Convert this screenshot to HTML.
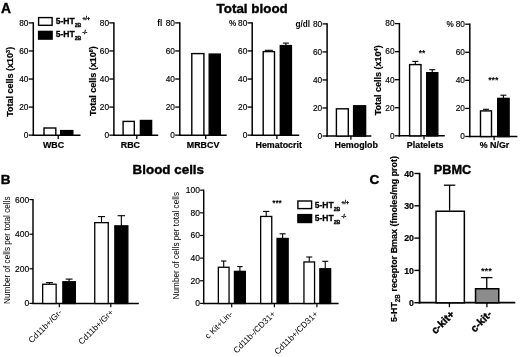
<!DOCTYPE html>
<html><head><meta charset="utf-8"><title>Figure</title>
<style>
html,body{margin:0;padding:0;background:#fff;}
svg{display:block;font-family:"Liberation Sans", Arial, Helvetica, sans-serif;fill:#000;}
</style></head><body>
<svg width="520" height="357" viewBox="0 0 520 357">
<rect x="0" y="0" width="520" height="357" fill="#fff"/>
<!-- Panel A -->
<text x="0.90" y="12.50" font-size="13.8" font-weight="bold" text-anchor="start" stroke="#000" stroke-width="0.4">A</text>
<text x="216.60" y="12.80" font-size="13.4" font-weight="bold" text-anchor="start" stroke="#000" stroke-width="0.4">Total blood</text>
<line x1="33.30" y1="22.25" x2="33.30" y2="135.90" stroke="#000" stroke-width="1.5"/>
<line x1="32.55" y1="135.15" x2="80.50" y2="135.15" stroke="#000" stroke-width="1.5"/>
<line x1="28.70" y1="135.15" x2="33.30" y2="135.15" stroke="#000" stroke-width="1.3"/>
<text x="28.40" y="137.95" font-size="8.3" text-anchor="end" stroke="#000" stroke-width="0.15">0</text>
<line x1="28.70" y1="107.09" x2="33.30" y2="107.09" stroke="#000" stroke-width="1.3"/>
<text x="28.40" y="109.89" font-size="8.3" text-anchor="end" stroke="#000" stroke-width="0.15">20</text>
<line x1="28.70" y1="79.03" x2="33.30" y2="79.03" stroke="#000" stroke-width="1.3"/>
<text x="28.40" y="81.83" font-size="8.3" text-anchor="end" stroke="#000" stroke-width="0.15">40</text>
<line x1="28.70" y1="50.96" x2="33.30" y2="50.96" stroke="#000" stroke-width="1.3"/>
<text x="28.40" y="53.76" font-size="8.3" text-anchor="end" stroke="#000" stroke-width="0.15">60</text>
<line x1="28.70" y1="22.90" x2="33.30" y2="22.90" stroke="#000" stroke-width="1.3"/>
<text x="28.40" y="25.70" font-size="8.3" text-anchor="end" stroke="#000" stroke-width="0.15">80</text>
<line x1="58.20" y1="135.15" x2="58.20" y2="138.95" stroke="#000" stroke-width="1.3"/>
<text x="12.60" y="81.83" font-size="9.0" font-weight="bold" text-anchor="middle" transform="rotate(-90 12.60 81.83)" stroke="#000" stroke-width="0.2">Total cells (x10<tspan font-size="5.5" dy="-3">3</tspan><tspan dy="3">)</tspan></text>
<rect x="44.00" y="128.00" width="11.80" height="7.20" fill="#fff" stroke="#000" stroke-width="1.4"/>
<rect x="60.70" y="130.60" width="12.10" height="4.60" fill="#000" stroke="#000" stroke-width="1.4"/>
<text x="53.60" y="148.10" font-size="8.9" font-weight="bold" text-anchor="middle" stroke="#000" stroke-width="0.2">WBC</text>
<rect x="38.60" y="17.60" width="13.50" height="7.70" fill="#fff" stroke="#000" stroke-width="1.4"/>
<rect x="38.60" y="31.40" width="13.50" height="7.70" fill="#000" stroke="#000" stroke-width="1.4"/>
<text x="55.80" y="23.70" font-size="8.5" font-weight="bold" text-anchor="start" stroke="#000" stroke-width="0.3">5-HT<tspan font-size="5.2" dy="3">2B</tspan><tspan font-size="5.2" dy="-6.5" dx="1.1">+/+</tspan></text>
<text x="55.80" y="37.20" font-size="8.5" font-weight="bold" text-anchor="start" stroke="#000" stroke-width="0.3">5-HT<tspan font-size="5.2" dy="3">2B</tspan><tspan font-size="5.2" dy="-6.5" dx="1.1">-/-</tspan></text>
<line x1="113.90" y1="22.25" x2="113.90" y2="135.90" stroke="#000" stroke-width="1.5"/>
<line x1="113.15" y1="135.15" x2="158.20" y2="135.15" stroke="#000" stroke-width="1.5"/>
<line x1="109.30" y1="135.15" x2="113.90" y2="135.15" stroke="#000" stroke-width="1.3"/>
<text x="109.00" y="137.95" font-size="8.3" text-anchor="end" stroke="#000" stroke-width="0.15">0</text>
<line x1="109.30" y1="107.09" x2="113.90" y2="107.09" stroke="#000" stroke-width="1.3"/>
<text x="109.00" y="109.89" font-size="8.3" text-anchor="end" stroke="#000" stroke-width="0.15">20</text>
<line x1="109.30" y1="79.03" x2="113.90" y2="79.03" stroke="#000" stroke-width="1.3"/>
<text x="109.00" y="81.83" font-size="8.3" text-anchor="end" stroke="#000" stroke-width="0.15">40</text>
<line x1="109.30" y1="50.96" x2="113.90" y2="50.96" stroke="#000" stroke-width="1.3"/>
<text x="109.00" y="53.76" font-size="8.3" text-anchor="end" stroke="#000" stroke-width="0.15">60</text>
<line x1="109.30" y1="22.90" x2="113.90" y2="22.90" stroke="#000" stroke-width="1.3"/>
<text x="109.00" y="25.70" font-size="8.3" text-anchor="end" stroke="#000" stroke-width="0.15">80</text>
<line x1="136.80" y1="135.15" x2="136.80" y2="138.95" stroke="#000" stroke-width="1.3"/>
<text x="95.70" y="81.13" font-size="9.0" font-weight="bold" text-anchor="middle" transform="rotate(-90 95.70 81.13)" stroke="#000" stroke-width="0.2">Total cells (x10<tspan font-size="5.5" dy="-3">6</tspan><tspan dy="3">)</tspan></text>
<rect x="123.10" y="121.40" width="11.20" height="13.80" fill="#fff" stroke="#000" stroke-width="1.4"/>
<rect x="140.40" y="120.50" width="11.20" height="14.70" fill="#000" stroke="#000" stroke-width="1.4"/>
<text x="130.40" y="148.10" font-size="8.9" font-weight="bold" text-anchor="middle" stroke="#000" stroke-width="0.2">RBC</text>
<line x1="179.80" y1="22.25" x2="179.80" y2="135.90" stroke="#000" stroke-width="1.5"/>
<line x1="179.05" y1="135.15" x2="226.70" y2="135.15" stroke="#000" stroke-width="1.5"/>
<line x1="175.20" y1="135.15" x2="179.80" y2="135.15" stroke="#000" stroke-width="1.3"/>
<text x="174.90" y="137.95" font-size="8.3" text-anchor="end" stroke="#000" stroke-width="0.15">0</text>
<line x1="175.20" y1="107.09" x2="179.80" y2="107.09" stroke="#000" stroke-width="1.3"/>
<text x="174.90" y="109.89" font-size="8.3" text-anchor="end" stroke="#000" stroke-width="0.15">20</text>
<line x1="175.20" y1="79.03" x2="179.80" y2="79.03" stroke="#000" stroke-width="1.3"/>
<text x="174.90" y="81.83" font-size="8.3" text-anchor="end" stroke="#000" stroke-width="0.15">40</text>
<line x1="175.20" y1="50.96" x2="179.80" y2="50.96" stroke="#000" stroke-width="1.3"/>
<text x="174.90" y="53.76" font-size="8.3" text-anchor="end" stroke="#000" stroke-width="0.15">60</text>
<line x1="175.20" y1="22.90" x2="179.80" y2="22.90" stroke="#000" stroke-width="1.3"/>
<text x="174.90" y="25.70" font-size="8.3" text-anchor="end" stroke="#000" stroke-width="0.15">80</text>
<line x1="205.70" y1="135.15" x2="205.70" y2="138.95" stroke="#000" stroke-width="1.3"/>
<text x="157.20" y="25.70" font-size="8.2" font-weight="bold" text-anchor="start">fl</text>
<rect x="191.80" y="53.60" width="12.10" height="81.60" fill="#fff" stroke="#000" stroke-width="1.4"/>
<rect x="209.20" y="54.10" width="11.10" height="81.10" fill="#000" stroke="#000" stroke-width="1.4"/>
<text x="203.10" y="148.10" font-size="8.9" font-weight="bold" text-anchor="middle" stroke="#000" stroke-width="0.2">MRBCV</text>
<line x1="252.20" y1="22.25" x2="252.20" y2="135.90" stroke="#000" stroke-width="1.5"/>
<line x1="251.45" y1="135.15" x2="299.20" y2="135.15" stroke="#000" stroke-width="1.5"/>
<line x1="247.60" y1="135.15" x2="252.20" y2="135.15" stroke="#000" stroke-width="1.3"/>
<text x="247.30" y="137.95" font-size="8.3" text-anchor="end" stroke="#000" stroke-width="0.15">0</text>
<line x1="247.60" y1="107.09" x2="252.20" y2="107.09" stroke="#000" stroke-width="1.3"/>
<text x="247.30" y="109.89" font-size="8.3" text-anchor="end" stroke="#000" stroke-width="0.15">20</text>
<line x1="247.60" y1="79.03" x2="252.20" y2="79.03" stroke="#000" stroke-width="1.3"/>
<text x="247.30" y="81.83" font-size="8.3" text-anchor="end" stroke="#000" stroke-width="0.15">40</text>
<line x1="247.60" y1="50.96" x2="252.20" y2="50.96" stroke="#000" stroke-width="1.3"/>
<text x="247.30" y="53.76" font-size="8.3" text-anchor="end" stroke="#000" stroke-width="0.15">60</text>
<line x1="247.60" y1="22.90" x2="252.20" y2="22.90" stroke="#000" stroke-width="1.3"/>
<text x="247.30" y="25.70" font-size="8.3" text-anchor="end" stroke="#000" stroke-width="0.15">80</text>
<line x1="276.90" y1="135.15" x2="276.90" y2="138.95" stroke="#000" stroke-width="1.3"/>
<text x="228.90" y="25.70" font-size="8.2" font-weight="bold" text-anchor="start">%</text>
<line x1="268.85" y1="50.30" x2="268.85" y2="51.40" stroke="#000" stroke-width="1.1"/>
<line x1="264.85" y1="50.30" x2="272.85" y2="50.30" stroke="#000" stroke-width="1.1"/>
<rect x="263.20" y="51.60" width="11.30" height="83.60" fill="#fff" stroke="#000" stroke-width="1.4"/>
<line x1="285.85" y1="43.10" x2="285.85" y2="45.40" stroke="#000" stroke-width="1.1"/>
<line x1="282.85" y1="43.10" x2="288.85" y2="43.10" stroke="#000" stroke-width="1.1"/>
<rect x="280.30" y="45.60" width="11.10" height="89.60" fill="#000" stroke="#000" stroke-width="1.4"/>
<text x="278.70" y="148.10" font-size="8.9" font-weight="bold" text-anchor="middle" stroke="#000" stroke-width="0.2">Hematocrit</text>
<line x1="327.10" y1="23.25" x2="327.10" y2="136.75" stroke="#000" stroke-width="1.5"/>
<line x1="326.35" y1="136.00" x2="371.30" y2="136.00" stroke="#000" stroke-width="1.5"/>
<line x1="322.50" y1="136.00" x2="327.10" y2="136.00" stroke="#000" stroke-width="1.3"/>
<text x="322.20" y="138.80" font-size="8.3" text-anchor="end" stroke="#000" stroke-width="0.15">0</text>
<line x1="322.50" y1="107.97" x2="327.10" y2="107.97" stroke="#000" stroke-width="1.3"/>
<text x="322.20" y="110.77" font-size="8.3" text-anchor="end" stroke="#000" stroke-width="0.15">20</text>
<line x1="322.50" y1="79.95" x2="327.10" y2="79.95" stroke="#000" stroke-width="1.3"/>
<text x="322.20" y="82.75" font-size="8.3" text-anchor="end" stroke="#000" stroke-width="0.15">40</text>
<line x1="322.50" y1="51.92" x2="327.10" y2="51.92" stroke="#000" stroke-width="1.3"/>
<text x="322.20" y="54.72" font-size="8.3" text-anchor="end" stroke="#000" stroke-width="0.15">60</text>
<line x1="322.50" y1="23.90" x2="327.10" y2="23.90" stroke="#000" stroke-width="1.3"/>
<text x="322.20" y="26.70" font-size="8.3" text-anchor="end" stroke="#000" stroke-width="0.15">80</text>
<line x1="350.90" y1="136.00" x2="350.90" y2="139.80" stroke="#000" stroke-width="1.3"/>
<text x="295.40" y="26.70" font-size="8.2" font-weight="bold" text-anchor="start">g/dl</text>
<rect x="336.40" y="108.80" width="11.90" height="27.25" fill="#fff" stroke="#000" stroke-width="1.4"/>
<rect x="353.60" y="105.80" width="12.00" height="30.25" fill="#000" stroke="#000" stroke-width="1.4"/>
<text x="356.20" y="148.30" font-size="8.9" font-weight="bold" text-anchor="middle" stroke="#000" stroke-width="0.2">Hemoglob</text>
<line x1="399.40" y1="22.95" x2="399.40" y2="136.55" stroke="#000" stroke-width="1.5"/>
<line x1="398.65" y1="135.80" x2="444.80" y2="135.80" stroke="#000" stroke-width="1.5"/>
<line x1="394.80" y1="135.80" x2="399.40" y2="135.80" stroke="#000" stroke-width="1.3"/>
<text x="394.50" y="138.60" font-size="8.3" text-anchor="end" stroke="#000" stroke-width="0.15">0</text>
<line x1="394.80" y1="107.75" x2="399.40" y2="107.75" stroke="#000" stroke-width="1.3"/>
<text x="394.50" y="110.55" font-size="8.3" text-anchor="end" stroke="#000" stroke-width="0.15">20</text>
<line x1="394.80" y1="79.70" x2="399.40" y2="79.70" stroke="#000" stroke-width="1.3"/>
<text x="394.50" y="82.50" font-size="8.3" text-anchor="end" stroke="#000" stroke-width="0.15">40</text>
<line x1="394.80" y1="51.65" x2="399.40" y2="51.65" stroke="#000" stroke-width="1.3"/>
<text x="394.50" y="54.45" font-size="8.3" text-anchor="end" stroke="#000" stroke-width="0.15">60</text>
<line x1="394.80" y1="23.60" x2="399.40" y2="23.60" stroke="#000" stroke-width="1.3"/>
<text x="394.50" y="26.40" font-size="8.3" text-anchor="end" stroke="#000" stroke-width="0.15">80</text>
<line x1="424.00" y1="135.80" x2="424.00" y2="139.60" stroke="#000" stroke-width="1.3"/>
<text x="381.40" y="80.30" font-size="9.0" font-weight="bold" text-anchor="middle" transform="rotate(-90 381.40 80.30)" stroke="#000" stroke-width="0.2">Total cells (x10<tspan font-size="5.5" dy="-3">4</tspan><tspan dy="3">)</tspan></text>
<line x1="415.30" y1="61.40" x2="415.30" y2="64.40" stroke="#000" stroke-width="1.1"/>
<line x1="412.30" y1="61.40" x2="418.30" y2="61.40" stroke="#000" stroke-width="1.1"/>
<rect x="409.60" y="64.60" width="11.40" height="71.25" fill="#fff" stroke="#000" stroke-width="1.4"/>
<line x1="432.25" y1="69.70" x2="432.25" y2="72.50" stroke="#000" stroke-width="1.1"/>
<line x1="429.25" y1="69.70" x2="435.25" y2="69.70" stroke="#000" stroke-width="1.1"/>
<rect x="426.70" y="72.70" width="11.10" height="63.15" fill="#000" stroke="#000" stroke-width="1.4"/>
<text x="422.10" y="55.60" font-size="8.3" font-weight="bold" text-anchor="middle">**</text>
<text x="425.10" y="148.10" font-size="8.9" font-weight="bold" text-anchor="middle" stroke="#000" stroke-width="0.2">Platelets</text>
<line x1="469.80" y1="23.55" x2="469.80" y2="137.25" stroke="#000" stroke-width="1.5"/>
<line x1="469.05" y1="136.50" x2="517.40" y2="136.50" stroke="#000" stroke-width="1.5"/>
<line x1="465.20" y1="136.50" x2="469.80" y2="136.50" stroke="#000" stroke-width="1.3"/>
<text x="464.90" y="139.30" font-size="8.3" text-anchor="end" stroke="#000" stroke-width="0.15">0</text>
<line x1="465.20" y1="108.42" x2="469.80" y2="108.42" stroke="#000" stroke-width="1.3"/>
<text x="464.90" y="111.22" font-size="8.3" text-anchor="end" stroke="#000" stroke-width="0.15">20</text>
<line x1="465.20" y1="80.35" x2="469.80" y2="80.35" stroke="#000" stroke-width="1.3"/>
<text x="464.90" y="83.15" font-size="8.3" text-anchor="end" stroke="#000" stroke-width="0.15">40</text>
<line x1="465.20" y1="52.28" x2="469.80" y2="52.28" stroke="#000" stroke-width="1.3"/>
<text x="464.90" y="55.08" font-size="8.3" text-anchor="end" stroke="#000" stroke-width="0.15">60</text>
<line x1="465.20" y1="24.20" x2="469.80" y2="24.20" stroke="#000" stroke-width="1.3"/>
<text x="464.90" y="27.00" font-size="8.3" text-anchor="end" stroke="#000" stroke-width="0.15">80</text>
<line x1="494.10" y1="136.50" x2="494.10" y2="140.30" stroke="#000" stroke-width="1.3"/>
<text x="446.40" y="27.00" font-size="8.2" font-weight="bold" text-anchor="start">%</text>
<line x1="486.00" y1="109.30" x2="486.00" y2="110.70" stroke="#000" stroke-width="1.1"/>
<line x1="483.00" y1="109.30" x2="489.00" y2="109.30" stroke="#000" stroke-width="1.1"/>
<rect x="480.50" y="110.90" width="11.00" height="25.65" fill="#fff" stroke="#000" stroke-width="1.4"/>
<line x1="503.40" y1="95.20" x2="503.40" y2="98.20" stroke="#000" stroke-width="1.1"/>
<line x1="500.40" y1="95.20" x2="506.40" y2="95.20" stroke="#000" stroke-width="1.1"/>
<rect x="497.70" y="98.40" width="11.40" height="38.15" fill="#000" stroke="#000" stroke-width="1.4"/>
<text x="493.30" y="83.10" font-size="8.8" font-weight="bold" text-anchor="middle">***</text>
<text x="494.50" y="148.10" font-size="8.9" font-weight="bold" text-anchor="middle" stroke="#000" stroke-width="0.2">% N/Gr</text>
<!-- Panel B -->
<text x="0.80" y="183.70" font-size="13.5" font-weight="bold" text-anchor="start" stroke="#000" stroke-width="0.4">B</text>
<text x="132.60" y="174.00" font-size="13.4" font-weight="bold" text-anchor="start" stroke="#000" stroke-width="0.4">Blood cells</text>
<line x1="33.00" y1="198.95" x2="33.00" y2="304.12" stroke="#000" stroke-width="1.45"/>
<line x1="32.27" y1="303.40" x2="138.80" y2="303.40" stroke="#000" stroke-width="1.45"/>
<line x1="29.40" y1="303.40" x2="33.00" y2="303.40" stroke="#000" stroke-width="1.2"/>
<text x="29.20" y="306.40" font-size="8.5" text-anchor="end" stroke="#000" stroke-width="0.15">0</text>
<line x1="29.40" y1="268.80" x2="33.00" y2="268.80" stroke="#000" stroke-width="1.2"/>
<text x="29.20" y="271.80" font-size="8.5" text-anchor="end" stroke="#000" stroke-width="0.15">200</text>
<line x1="29.40" y1="234.20" x2="33.00" y2="234.20" stroke="#000" stroke-width="1.2"/>
<text x="29.20" y="237.20" font-size="8.5" text-anchor="end" stroke="#000" stroke-width="0.15">400</text>
<line x1="29.40" y1="199.60" x2="33.00" y2="199.60" stroke="#000" stroke-width="1.2"/>
<text x="29.20" y="202.60" font-size="8.5" text-anchor="end" stroke="#000" stroke-width="0.15">600</text>
<text x="10.20" y="250.20" font-size="8.2" text-anchor="middle" transform="rotate(-90 10.20 250.20)">Number of cells per total cells</text>
<line x1="49.40" y1="282.60" x2="49.40" y2="284.10" stroke="#000" stroke-width="1.1"/>
<line x1="45.90" y1="282.60" x2="52.90" y2="282.60" stroke="#000" stroke-width="1.1"/>
<rect x="42.65" y="284.25" width="13.50" height="19.22" fill="#fff" stroke="#000" stroke-width="1.3"/>
<line x1="69.10" y1="279.10" x2="69.10" y2="281.60" stroke="#000" stroke-width="1.1"/>
<line x1="65.60" y1="279.10" x2="72.60" y2="279.10" stroke="#000" stroke-width="1.1"/>
<rect x="62.85" y="281.75" width="12.50" height="21.72" fill="#000" stroke="#000" stroke-width="1.3"/>
<line x1="101.50" y1="216.60" x2="101.50" y2="222.50" stroke="#000" stroke-width="1.1"/>
<line x1="98.00" y1="216.60" x2="105.00" y2="216.60" stroke="#000" stroke-width="1.1"/>
<rect x="94.75" y="222.65" width="13.50" height="80.83" fill="#fff" stroke="#000" stroke-width="1.3"/>
<line x1="121.35" y1="215.70" x2="121.35" y2="225.70" stroke="#000" stroke-width="1.1"/>
<line x1="117.60" y1="215.70" x2="125.10" y2="215.70" stroke="#000" stroke-width="1.1"/>
<rect x="114.85" y="225.85" width="13.00" height="77.63" fill="#000" stroke="#000" stroke-width="1.3"/>
<line x1="59.30" y1="303.40" x2="59.30" y2="307.20" stroke="#000" stroke-width="1.2"/>
<text x="62.50" y="312.90" font-size="8.4" text-anchor="end" transform="rotate(-45 62.50 312.90)">Cd11b+/Gr-</text>
<line x1="110.80" y1="303.40" x2="110.80" y2="307.20" stroke="#000" stroke-width="1.2"/>
<text x="114.00" y="312.90" font-size="8.4" text-anchor="end" transform="rotate(-45 114.00 312.90)">Cd11b+/Gr+</text>
<line x1="203.70" y1="189.55" x2="203.70" y2="304.12" stroke="#000" stroke-width="1.45"/>
<line x1="202.97" y1="303.40" x2="338.60" y2="303.40" stroke="#000" stroke-width="1.45"/>
<line x1="200.10" y1="303.40" x2="203.70" y2="303.40" stroke="#000" stroke-width="1.2"/>
<text x="199.90" y="306.40" font-size="8.5" text-anchor="end" stroke="#000" stroke-width="0.15">0</text>
<line x1="200.10" y1="280.76" x2="203.70" y2="280.76" stroke="#000" stroke-width="1.2"/>
<text x="199.90" y="283.76" font-size="8.5" text-anchor="end" stroke="#000" stroke-width="0.15">20</text>
<line x1="200.10" y1="258.12" x2="203.70" y2="258.12" stroke="#000" stroke-width="1.2"/>
<text x="199.90" y="261.12" font-size="8.5" text-anchor="end" stroke="#000" stroke-width="0.15">40</text>
<line x1="200.10" y1="235.48" x2="203.70" y2="235.48" stroke="#000" stroke-width="1.2"/>
<text x="199.90" y="238.48" font-size="8.5" text-anchor="end" stroke="#000" stroke-width="0.15">60</text>
<line x1="200.10" y1="212.84" x2="203.70" y2="212.84" stroke="#000" stroke-width="1.2"/>
<text x="199.90" y="215.84" font-size="8.5" text-anchor="end" stroke="#000" stroke-width="0.15">80</text>
<line x1="200.10" y1="190.20" x2="203.70" y2="190.20" stroke="#000" stroke-width="1.2"/>
<text x="199.90" y="193.20" font-size="8.5" text-anchor="end" stroke="#000" stroke-width="0.15">100</text>
<text x="179.00" y="245.70" font-size="8.2" text-anchor="middle" transform="rotate(-90 179.00 245.70)">Number of cells per total cells</text>
<line x1="223.70" y1="261.00" x2="223.70" y2="267.10" stroke="#000" stroke-width="1.1"/>
<line x1="221.00" y1="261.00" x2="226.40" y2="261.00" stroke="#000" stroke-width="1.1"/>
<rect x="218.35" y="267.25" width="10.70" height="36.22" fill="#fff" stroke="#000" stroke-width="1.3"/>
<line x1="239.90" y1="266.60" x2="239.90" y2="271.20" stroke="#000" stroke-width="1.1"/>
<line x1="237.20" y1="266.60" x2="242.60" y2="266.60" stroke="#000" stroke-width="1.1"/>
<rect x="234.45" y="271.35" width="10.90" height="32.13" fill="#000" stroke="#000" stroke-width="1.3"/>
<line x1="266.20" y1="211.40" x2="266.20" y2="216.30" stroke="#000" stroke-width="1.1"/>
<line x1="263.05" y1="211.40" x2="269.35" y2="211.40" stroke="#000" stroke-width="1.1"/>
<rect x="260.65" y="216.45" width="11.10" height="87.02" fill="#fff" stroke="#000" stroke-width="1.3"/>
<line x1="282.60" y1="233.80" x2="282.60" y2="238.30" stroke="#000" stroke-width="1.1"/>
<line x1="279.60" y1="233.80" x2="285.60" y2="233.80" stroke="#000" stroke-width="1.1"/>
<rect x="277.05" y="238.45" width="11.10" height="65.02" fill="#000" stroke="#000" stroke-width="1.3"/>
<line x1="309.25" y1="257.00" x2="309.25" y2="261.80" stroke="#000" stroke-width="1.1"/>
<line x1="306.25" y1="257.00" x2="312.25" y2="257.00" stroke="#000" stroke-width="1.1"/>
<rect x="303.95" y="261.95" width="10.60" height="41.52" fill="#fff" stroke="#000" stroke-width="1.3"/>
<line x1="325.25" y1="261.30" x2="325.25" y2="268.60" stroke="#000" stroke-width="1.1"/>
<line x1="322.25" y1="261.30" x2="328.25" y2="261.30" stroke="#000" stroke-width="1.1"/>
<rect x="319.85" y="268.75" width="10.80" height="34.72" fill="#000" stroke="#000" stroke-width="1.3"/>
<line x1="231.70" y1="303.40" x2="231.70" y2="307.20" stroke="#000" stroke-width="1.2"/>
<text x="233.20" y="314.40" font-size="8.4" text-anchor="end" transform="rotate(-45 233.20 314.40)">c Kit+Lin-</text>
<line x1="274.40" y1="303.40" x2="274.40" y2="307.20" stroke="#000" stroke-width="1.2"/>
<text x="275.90" y="314.40" font-size="8.4" text-anchor="end" transform="rotate(-45 275.90 314.40)">Cd11b-/CD31+</text>
<line x1="316.90" y1="303.40" x2="316.90" y2="307.20" stroke="#000" stroke-width="1.2"/>
<text x="318.40" y="314.40" font-size="8.4" text-anchor="end" transform="rotate(-45 318.40 314.40)">Cd11b+/CD31+</text>
<text x="277.00" y="206.40" font-size="8.3" font-weight="bold" text-anchor="middle">***</text>
<rect x="297.90" y="201.00" width="13.70" height="7.60" fill="#fff" stroke="#000" stroke-width="1.4"/>
<rect x="297.90" y="214.60" width="13.70" height="7.90" fill="#000" stroke="#000" stroke-width="1.4"/>
<text x="314.80" y="207.60" font-size="8.5" font-weight="bold" text-anchor="start" stroke="#000" stroke-width="0.3">5-HT<tspan font-size="5.2" dy="3">2B</tspan><tspan font-size="5.2" dy="-6.5" dx="1.1">+/+</tspan></text>
<text x="314.80" y="221.20" font-size="8.5" font-weight="bold" text-anchor="start" stroke="#000" stroke-width="0.3">5-HT<tspan font-size="5.2" dy="3">2B</tspan><tspan font-size="5.2" dy="-6.5" dx="1.1">-/-</tspan></text>
<!-- Panel C -->
<text x="369.60" y="183.80" font-size="13.5" font-weight="bold" text-anchor="start" stroke="#000" stroke-width="0.4">C</text>
<text x="433.80" y="173.80" font-size="12.7" font-weight="bold" text-anchor="start" stroke="#000" stroke-width="0.4">PBMC</text>
<line x1="419.60" y1="172.80" x2="419.60" y2="303.55" stroke="#000" stroke-width="1.7"/>
<line x1="418.75" y1="302.70" x2="515.30" y2="302.70" stroke="#000" stroke-width="1.7"/>
<line x1="414.40" y1="302.70" x2="419.60" y2="302.70" stroke="#000" stroke-width="1.4"/>
<text x="414.00" y="305.80" font-size="8.8" font-weight="bold" text-anchor="end" stroke="#000" stroke-width="0.2">0</text>
<line x1="414.40" y1="270.40" x2="419.60" y2="270.40" stroke="#000" stroke-width="1.4"/>
<text x="414.00" y="273.50" font-size="8.8" font-weight="bold" text-anchor="end" stroke="#000" stroke-width="0.2">10</text>
<line x1="414.40" y1="238.10" x2="419.60" y2="238.10" stroke="#000" stroke-width="1.4"/>
<text x="414.00" y="241.20" font-size="8.8" font-weight="bold" text-anchor="end" stroke="#000" stroke-width="0.2">20</text>
<line x1="414.40" y1="205.80" x2="419.60" y2="205.80" stroke="#000" stroke-width="1.4"/>
<text x="414.00" y="208.90" font-size="8.8" font-weight="bold" text-anchor="end" stroke="#000" stroke-width="0.2">30</text>
<line x1="414.40" y1="173.50" x2="419.60" y2="173.50" stroke="#000" stroke-width="1.4"/>
<text x="414.00" y="176.60" font-size="8.8" font-weight="bold" text-anchor="end" stroke="#000" stroke-width="0.2">40</text>
<text x="397.30" y="239.00" font-size="8.95" font-weight="bold" text-anchor="middle" transform="rotate(-90 397.30 239.00)" stroke="#000" stroke-width="0.2">5-HT<tspan font-size="6.3" dy="2.6">2B</tspan><tspan dy="-2.6"> receptor Bmax (fmoles/mg prot)</tspan></text>
<line x1="449.60" y1="185.20" x2="449.60" y2="210.50" stroke="#000" stroke-width="1.3"/>
<line x1="443.90" y1="185.20" x2="455.30" y2="185.20" stroke="#000" stroke-width="1.3"/>
<rect x="436.05" y="211.25" width="28.30" height="91.55" fill="#fff" stroke="#000" stroke-width="1.5"/>
<line x1="486.75" y1="277.60" x2="486.75" y2="288.00" stroke="#000" stroke-width="1.3"/>
<line x1="481.05" y1="277.60" x2="492.45" y2="277.60" stroke="#000" stroke-width="1.3"/>
<rect x="475.55" y="288.75" width="23.20" height="14.05" fill="#8c8c8c" stroke="#000" stroke-width="1.5"/>
<text x="486.40" y="273.60" font-size="9.4" font-weight="bold" text-anchor="middle">***</text>
<line x1="449.40" y1="302.70" x2="449.40" y2="307.20" stroke="#000" stroke-width="1.3"/>
<text x="455.00" y="314.90" font-size="10.5" font-weight="bold" text-anchor="end" transform="rotate(-45 455.00 314.90)" stroke="#000" stroke-width="0.4">c-kit+</text>
<line x1="486.90" y1="302.70" x2="486.90" y2="307.20" stroke="#000" stroke-width="1.3"/>
<text x="492.50" y="314.90" font-size="10.5" font-weight="bold" text-anchor="end" transform="rotate(-45 492.50 314.90)" stroke="#000" stroke-width="0.4">c-kit-</text>
</svg>
</body></html>
